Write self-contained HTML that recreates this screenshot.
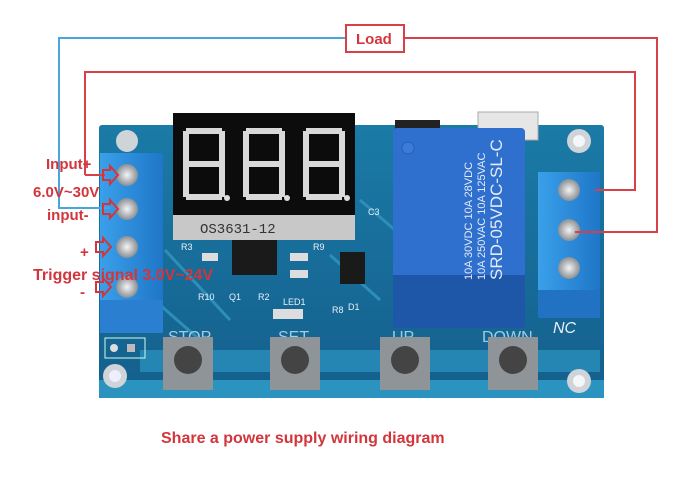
<!DOCTYPE html>
<html><head><meta charset="utf-8"><style>
html,body{margin:0;padding:0;background:#fff;width:699px;height:483px;overflow:hidden}
svg{display:block}
.l{font-family:"Liberation Sans",sans-serif;font-weight:bold;fill:#d2363c}
.w{font-family:"Liberation Sans",sans-serif;fill:#e8f2f8}
</style></head><body>
<svg width="699" height="483" viewBox="0 0 699 483" xmlns="http://www.w3.org/2000/svg">
<defs>
<linearGradient id="pcb" x1="0" y1="0" x2="0" y2="1"><stop offset="0" stop-color="#1b7aa6"/><stop offset="1" stop-color="#145f8c"/></linearGradient>
<linearGradient id="tb" x1="0" y1="0" x2="1" y2="0"><stop offset="0" stop-color="#3aa0ea"/><stop offset="1" stop-color="#1f76c8"/></linearGradient>
<radialGradient id="scr"><stop offset="0" stop-color="#f4f4f4"/><stop offset="1" stop-color="#8a8f94"/></radialGradient>
</defs>
<rect x="99" y="125" width="505" height="273" rx="3" fill="url(#pcb)"/>
<rect x="99" y="380" width="505" height="18" fill="#2a93bf"/>
<path d="M165 250 L230 320 M330 255 L380 300 M360 200 L395 230 M160 305 L200 340" stroke="#2d8fb8" stroke-width="3" fill="none"/>
<rect x="140" y="350" width="460" height="22" fill="#2585b3"/>
<circle cx="115" cy="376" r="12" fill="#cfd4d8"/><circle cx="115" cy="376" r="6" fill="#eef"/>
<circle cx="579" cy="141" r="12" fill="#cfd4d8"/><circle cx="579" cy="141" r="6" fill="#f4f6f8"/>
<circle cx="579" cy="381" r="12" fill="#cfd4d8"/><circle cx="579" cy="381" r="6" fill="#f4f6f8"/>
<circle cx="127" cy="141" r="11" fill="#cfd4d8"/>
<rect x="105" y="338" width="40" height="20" fill="none" stroke="#cfe" stroke-width="1"/>
<circle cx="114" cy="348" r="4" fill="#ddd"/><rect x="127" y="344" width="8" height="8" fill="#bbb"/>
<rect x="478" y="112" width="60" height="28" fill="#e6e6e6" stroke="#aaa"/>
<rect x="395" y="120" width="45" height="20" fill="#222"/>
<rect x="173" y="113" width="182" height="102" fill="#0c0c0c"/>
<rect x="173" y="215" width="182" height="25" fill="#c8c8c8"/>
<text x="200" y="233" font-family="Liberation Mono,monospace" font-size="14" fill="#333">OS3631-12</text>
<g fill="none" stroke="#d9d9d9" stroke-width="6">
<path d="M186 131 H222 M186 131 V197 M222 131 V197 M186 164 H222 M186 197 H222"/>
<path d="M246 131 H282 M246 131 V197 M282 131 V197 M246 164 H282 M246 197 H282"/>
<path d="M306 131 H342 M306 131 V197 M342 131 V197 M306 164 H342 M306 197 H342"/>
</g>
<circle cx="227" cy="198" r="3" fill="#ddd"/><circle cx="287" cy="198" r="3" fill="#ddd"/><circle cx="347" cy="198" r="3" fill="#ddd"/>
<rect x="232" y="240" width="45" height="35" fill="#1a1a1a"/>
<rect x="340" y="252" width="25" height="32" fill="#1a1a1a"/>
<rect x="202" y="253" width="16" height="8" fill="#ddd"/><rect x="290" y="253" width="18" height="8" fill="#ddd"/><rect x="290" y="270" width="18" height="8" fill="#ddd"/>
<rect x="273" y="309" width="30" height="10" fill="#ddd"/>
<g class="w" font-size="9"><text x="181" y="250">R3</text><text x="313" y="250">R9</text><text x="198" y="300">R10</text><text x="229" y="300">Q1</text><text x="258" y="300">R2</text><text x="283" y="305">LED1</text><text x="332" y="313">R8</text><text x="348" y="310">D1</text><text x="368" y="215">C3</text></g>
<rect x="393" y="128" width="132" height="200" rx="4" fill="#2f6fce"/>
<rect x="393" y="275" width="132" height="53" fill="#1e56a8"/>
<circle cx="408" cy="148" r="6" fill="#3c7cd8" stroke="#2660b8"/>
<g transform="translate(470 280) rotate(-90)" font-family="Liberation Sans,sans-serif" fill="#e4ecf8">
<text x="0" y="32" font-size="17">SRD-05VDC-SL-C</text>
<text x="0" y="15" font-size="11">10A 250VAC 10A 125VAC</text>
<text x="0" y="2" font-size="11">10A 30VDC 10A 28VDC</text>
</g>
<rect x="538" y="172" width="62" height="146" fill="url(#tb)"/>
<rect x="538" y="290" width="62" height="28" fill="#2272c4"/>
<circle cx="569" cy="190" r="11" fill="url(#scr)"/><circle cx="569" cy="230" r="11" fill="url(#scr)"/><circle cx="569" cy="268" r="11" fill="url(#scr)"/>
<text x="553" y="333" font-family="Liberation Sans,sans-serif" font-style="italic" font-size="16" fill="#eef">NC</text>
<rect x="100" y="153" width="63" height="180" fill="url(#tb)"/>
<rect x="100" y="300" width="63" height="33" fill="#2a7fd0"/>
<circle cx="127" cy="175" r="11" fill="url(#scr)"/><circle cx="127" cy="209" r="11" fill="url(#scr)"/><circle cx="127" cy="247" r="11" fill="url(#scr)"/><circle cx="127" cy="287" r="11" fill="url(#scr)"/>
<g font-family="Liberation Sans,sans-serif" font-size="16" fill="#9fcde6"><text x="168" y="342">STOP</text><text x="278" y="342">SET</text><text x="392" y="342">UP</text><text x="482" y="342">DOWN</text></g>
<g>
<rect x="163" y="337" width="50" height="53" fill="#8f9499"/><circle cx="188" cy="360" r="14" fill="#444"/>
<rect x="270" y="337" width="50" height="53" fill="#8f9499"/><circle cx="295" cy="360" r="14" fill="#444"/>
<rect x="380" y="337" width="50" height="53" fill="#8f9499"/><circle cx="405" cy="360" r="14" fill="#444"/>
<rect x="488" y="337" width="50" height="53" fill="#8f9499"/><circle cx="513" cy="360" r="14" fill="#444"/>
</g>
<path d="M345 38 H59 V208 H110" fill="none" stroke="#4aa6d8" stroke-width="2"/>
<path d="M405 38 H657 V232 H575" fill="none" stroke="#d84048" stroke-width="2"/>
<path d="M85 175 V72 H635 V190 H595" fill="none" stroke="#d84048" stroke-width="2"/>
<path d="M85 175 H105" fill="none" stroke="#d84048" stroke-width="2"/>
<rect x="346" y="25" width="58" height="27" fill="#fff" stroke="#d84048" stroke-width="2"/>
<text x="356" y="44" class="l" font-size="15">Load</text>
<g fill="none" stroke="#d2363c" stroke-width="2">
<path d="M103 170 h7 v-4 l8 9 l-8 9 v-4 h-7z"/>
<path d="M103 204 h7 v-4 l8 9 l-8 9 v-4 h-7z"/>
<path d="M96 242 h7 v-4 l8 9 l-8 9 v-4 h-7z"/>
<path d="M96 282 h7 v-4 l8 9 l-8 9 v-4 h-7z"/>
</g>
<g class="l" font-size="15">
<text x="46" y="169">Input+</text>
<text x="33" y="197">6.0V~30V</text>
<text x="47" y="220">input-</text>
<text x="80" y="257">+</text>
<text x="33" y="280" font-size="16">Trigger signal 3.0V~24V</text>
<text x="80" y="297">-</text>
<text x="161" y="443" font-size="16">Share a power supply wiring diagram</text>
</g>
</svg>
</body></html>
